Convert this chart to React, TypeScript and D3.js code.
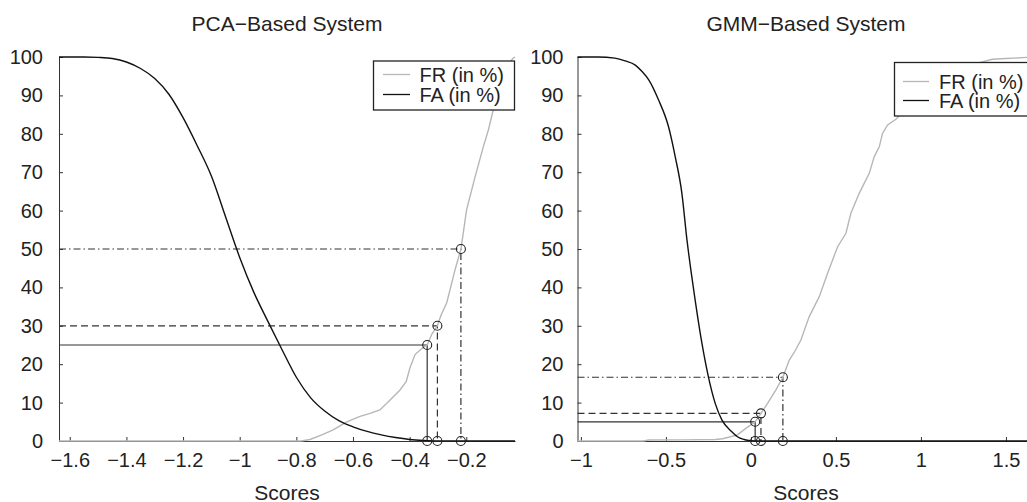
import { useRef, useEffect } from "react";
import * as d3 from "d3";

// y ticks shared by both panels
const rateTicks = [0, 10, 20, 30, 40, 50, 60, 70, 80, 90, 100];
const pcaTicks = [-1.6, -1.4, -1.2, -1, -0.8, -0.6, -0.4, -0.2];
const gmmTicks = [-1, -0.5, 0, 0.5, 1, 1.5];
const legendLabels = ["FR (in %)", "FA (in %)"];

// PCA-based system: [score, rate]
const pcaFR = [
  [-1.638, 0], [-0.783, 0], [-0.752, 0.4], [-0.71, 1.6], [-0.67, 2.9], [-0.622, 5],
  [-0.575, 6.4], [-0.54, 7.2], [-0.505, 8.1], [-0.469, 10.7], [-0.434, 13.3],
  [-0.412, 15.5], [-0.399, 19], [-0.381, 22.5], [-0.355, 24.2], [-0.338, 25],
  [-0.322, 27.8], [-0.302, 30], [-0.29, 32.6], [-0.269, 36], [-0.24, 44.5],
  [-0.219, 50], [-0.211, 54], [-0.199, 60.2], [-0.169, 68.8], [-0.14, 76.6],
  [-0.122, 81], [-0.105, 86.2], [-0.08, 92], [-0.06, 96.5], [-0.045, 98.8],
  [-0.034, 99.7], [-0.028, 100],
];
const pcaFA = [
  [-1.638, 100], [-1.55, 100], [-1.5, 99.9], [-1.45, 99.6], [-1.4, 98.7], [-1.35, 97],
  [-1.3, 94.4], [-1.25, 90.3], [-1.2, 84.2], [-1.15, 76.9], [-1.1, 69], [-1.05, 58.4],
  [-1, 47.8], [-0.95, 38.7], [-0.9, 31.1], [-0.85, 23.7], [-0.8, 16.6], [-0.75, 11.3],
  [-0.7, 7.8], [-0.65, 5.3], [-0.6, 3.7], [-0.55, 2.5], [-0.5, 1.6], [-0.45, 0.9],
  [-0.4, 0.4], [-0.35, 0.15], [-0.3, 0.03], [-0.028, 0],
];
const pcaOpScores = [-0.338, -0.302, -0.219];
const pcaOpRates = [25, 30, 50];

// GMM-based system: [score, rate]
const gmmFR = [
  [-1.02, 0], [-0.633, 0], [-0.6, 0.25], [-0.4, 0.3], [-0.21, 0.4], [-0.167, 0.6],
  [-0.12, 1.1], [-0.079, 1.6], [-0.03, 3.3], [0.025, 5], [0.059, 7.2], [0.098, 9.8],
  [0.147, 13.3], [0.188, 16.6], [0.225, 21], [0.26, 23.5], [0.294, 26.3],
  [0.343, 32.4], [0.402, 37.6], [0.451, 43.7], [0.51, 50.6], [0.559, 54.1],
  [0.588, 59.3], [0.637, 64.5], [0.666, 67.1], [0.696, 69.7], [0.725, 74],
  [0.755, 76.6], [0.774, 80.1], [0.804, 82.3], [0.853, 83.8], [0.9, 86], [1.0, 90],
  [1.1, 93.5], [1.2, 96], [1.3, 98], [1.42, 99.4], [1.5, 99.6], [1.668, 100],
];
const gmmFA = [
  [-1.02, 100], [-0.9, 100], [-0.8, 99.7], [-0.74, 99], [-0.68, 97.9], [-0.64, 96.2],
  [-0.6, 94], [-0.543, 88.8], [-0.485, 81.9], [-0.445, 74], [-0.406, 64.5],
  [-0.376, 52.3], [-0.35, 43.5], [-0.328, 36.7], [-0.288, 25.4], [-0.249, 16.5],
  [-0.21, 9.8], [-0.171, 5.5], [-0.112, 2.4], [-0.079, 1.1], [-0.04, 0.4],
  [0, 0.1], [0.05, 0], [1.668, 0],
];
const gmmOpScores = [0.025, 0.059, 0.188];
const gmmOpRates = [5, 7.2, 16.6];

const W = 1027;
const H = 502;
const top = 57;
const bottom = 441;
const font = "'Liberation Sans', Arial, sans-serif";
const frColor = "#b7b7b7";
const faColor = "#111";
const axisColor = "#333";
const dashes = [null, "7,4", "7,3,1.5,3"];

const panels = [
  {
    title: "PCA\u2212Based System",
    domain: [-1.638, -0.028],
    range: [59, 515],
    ticks: pcaTicks,
    yPad: 16,
    fr: pcaFR,
    fa: pcaFA,
    opX: pcaOpScores,
    opY: pcaOpRates,
    legend: { x: 373.5, y: 61, w: 141, h: 49, row1: 74.5, gap: 20, lx: 383, lw: 27, tx: 419.5 },
  },
  {
    title: "GMM\u2212Based System",
    domain: [-1.02, 1.668],
    range: [577.5, 1034.5],
    ticks: gmmTicks,
    yPad: 14,
    fr: gmmFR,
    fa: gmmFA,
    opX: gmmOpScores,
    opY: gmmOpRates,
    legend: { x: 894.5, y: 62.5, w: 139, h: 53.5, row1: 81.5, gap: 19, lx: 903, lw: 26, tx: 939 },
  },
];

const Panel = ({ p }) => {
  const gRef = useRef(null);

  useEffect(() => {
    const g = d3.select(gRef.current);
    g.selectAll("*").remove();

    const x = d3.scaleLinear().domain(p.domain).range(p.range);
    const y = d3.scaleLinear().domain([0, 100]).range([bottom, top]);

    const xAxis = g
      .append("g")
      .attr("transform", `translate(0,${bottom})`)
      .call(
        d3.axisBottom(x).tickValues(p.ticks).tickSize(-4).tickSizeOuter(0).tickPadding(12).tickFormat(d3.format("~g"))
      );
    const yAxis = g
      .append("g")
      .attr("transform", `translate(${p.range[0]},0)`)
      .call(d3.axisLeft(y).tickValues(rateTicks).tickSize(-4).tickSizeOuter(0).tickPadding(p.yPad));

    [xAxis, yAxis].forEach((a) => {
      a.attr("font-family", font).attr("font-size", 20);
      a.select(".domain").attr("stroke", axisColor);
      a.selectAll(".tick line").attr("stroke", axisColor);
      a.selectAll(".tick text").attr("fill", "#222");
    });

    // operating point guides
    p.opX.forEach((sx, i) => {
      const sy = p.opY[i];
      const path = d3.path();
      path.moveTo(p.range[0], y(sy));
      path.lineTo(x(sx), y(sy));
      path.lineTo(x(sx), y(0));
      g.append("path")
        .attr("d", path.toString())
        .attr("fill", "none")
        .attr("stroke", "#333")
        .attr("stroke-width", 1.2)
        .attr("stroke-dasharray", dashes[i]);
    });

    const line = d3.line().x((d) => x(d[0])).y((d) => y(d[1]));
    g.append("path")
      .attr("d", line(p.fr))
      .attr("fill", "none")
      .attr("stroke", frColor)
      .attr("stroke-width", 1.4);
    g.append("path")
      .attr("d", line.curve(d3.curveMonotoneX)(p.fa))
      .attr("fill", "none")
      .attr("stroke", faColor)
      .attr("stroke-width", 1.4);

    const pts = p.opX.flatMap((sx, i) => [[sx, p.opY[i]], [sx, 0]]);
    g.selectAll("circle.op")
      .data(pts)
      .enter()
      .append("circle")
      .attr("cx", (d) => x(d[0]))
      .attr("cy", (d) => y(d[1]))
      .attr("r", 4.5)
      .attr("fill", "none")
      .attr("stroke", "#222")
      .attr("stroke-width", 1.1);

    // legend
    const L = p.legend;
    const lg = g.append("g");
    lg.append("rect")
      .attr("x", L.x)
      .attr("y", L.y)
      .attr("width", L.w)
      .attr("height", L.h)
      .attr("fill", "#fff")
      .attr("stroke", "#222")
      .attr("stroke-width", 1.3);
    legendLabels.forEach((lab, i) => {
      const ly = L.row1 + i * L.gap;
      lg.append("line")
        .attr("x1", L.lx)
        .attr("x2", L.lx + L.lw)
        .attr("y1", ly)
        .attr("y2", ly)
        .attr("stroke", i === 0 ? frColor : faColor)
        .attr("stroke-width", 1.3);
      lg.append("text")
        .attr("x", L.tx)
        .attr("y", ly)
        .attr("dy", "0.36em")
        .attr("font-family", font)
        .attr("font-size", 20)
        .attr("fill", "#222")
        .text(lab);
    });

    const cx = (p.range[0] + p.range[1]) / 2;
    g.append("text")
      .attr("x", cx)
      .attr("y", 30.5)
      .attr("text-anchor", "middle")
      .attr("font-family", font)
      .attr("font-size", 21)
      .attr("fill", "#222")
      .text(p.title);
    g.append("text")
      .attr("x", cx)
      .attr("y", 499.5)
      .attr("text-anchor", "middle")
      .attr("font-family", font)
      .attr("font-size", 21)
      .attr("fill", "#222")
      .text("Scores");
  }, [p]);

  return <g ref={gRef}></g>;
};

export default function App() {
  return (
    <svg
      width={W}
      height={H}
      style={{ position: "absolute", left: 0, top: 0, background: "#fff" }}
    >
      {panels.map((p) => (
        <Panel key={p.title} p={p} />
      ))}
    </svg>
  );
}
